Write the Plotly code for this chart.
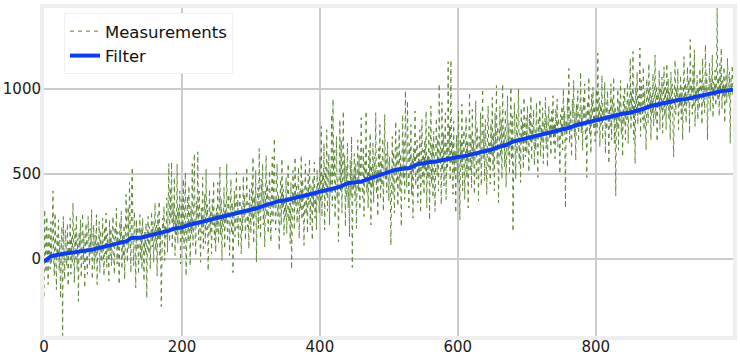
import plotly.graph_objects as go

measurements = [
-220,290,60,-80,250,120,-150,180,30,-60,220,-20,150,400,10,-100,270,80,-180,140,20,230,-70,110,-230,60,190,-450,250,40,-120,170,90,-40,210,-160,100,30,240,-90,130,-20,330,50,-140,180,0,260,-60,120,
-250,160,40,230,-110,90,270,-30,150,-170,60,210,0,-90,250,110,-40,180,30,290,-120,70,200,-60,140,10,260,-150,100,50,220,-80,170,60,-20,240,120,-100,190,30,270,-50,150,80,-130,230,20,180,-40,110,
250,40,-90,190,120,300,-30,160,60,-150,220,90,280,-60,140,10,200,-120,80,380,150,-20,310,60,450,100,-80,400,540,120,-40,280,160,-170,230,50,190,-90,120,260,0,180,-60,240,90,-130,160,30,210,-230,
120,250,30,190,-60,160,280,70,220,-20,140,330,50,200,-100,260,120,340,10,180,-280,90,240,150,310,-10,200,130,360,40,280,560,100,420,230,570,60,330,190,480,20,260,140,560,90,300,170,400,-30,220,
350,120,470,60,280,510,-100,190,370,100,430,240,-40,310,150,560,80,260,620,180,20,340,210,630,110,400,260,-20,300,150,480,60,240,380,90,530,170,320,-70,250,410,140,290,30,350,200,460,110,270,40,
300,160,450,90,230,540,140,360,-10,270,190,420,60,320,210,560,100,280,380,20,250,470,150,330,-80,220,400,130,290,510,180,350,70,260,440,200,30,310,160,490,240,380,110,270,540,190,330,60,410,280,
150,450,230,600,90,370,260,520,-20,310,420,180,650,280,120,470,340,560,200,400,70,330,610,250,440,150,360,520,290,100,390,600,220,480,710,310,170,430,560,250,380,50,340,470,200,590,300,410,140,360,
250,480,150,400,560,220,330,90,450,-60,280,520,370,170,600,310,440,210,350,540,120,400,290,610,230,470,340,80,380,560,260,420,150,500,320,590,200,430,360,110,480,300,570,240,410,170,520,350,450,270,
600,330,780,250,500,410,680,170,540,370,760,280,460,620,200,530,380,850,310,940,490,640,240,560,720,350,470,100,590,820,400,700,270,520,870,430,610,190,550,360,680,300,450,130,580,370,720,-50,500,410,
620,340,560,180,480,700,400,610,290,530,830,450,360,660,250,570,470,870,390,510,300,640,440,740,200,550,420,680,330,600,490,860,380,530,250,650,460,790,350,580,430,710,280,550,850,470,620,390,690,520,
340,600,450,80,560,720,380,630,270,520,810,440,660,310,580,760,400,620,190,540,850,470,700,350,990,560,420,930,610,300,680,500,790,380,600,240,650,520,870,430,590,700,330,620,480,760,270,560,820,450,
640,380,700,520,870,300,610,470,780,230,590,900,440,680,360,750,550,280,640,830,490,710,400,1030,570,660,320,920,520,740,430,620,860,350,680,540,1160,600,780,460,1170,560,690,380,810,500,640,270,730,580,
450,870,620,230,700,540,910,400,660,760,350,590,840,480,690,300,620,980,510,740,420,880,560,700,380,650,930,470,780,600,340,720,550,860,430,670,1000,590,760,460,820,620,380,730,900,540,680,440,800,610,
950,520,740,400,860,650,1020,560,780,330,700,900,600,820,470,1030,660,760,540,880,420,720,960,610,800,500,690,1010,580,840,160,650,920,730,470,860,620,780,1000,560,740,450,890,680,810,530,950,700,600,830,
620,900,740,510,850,680,960,580,790,700,880,550,760,640,920,700,480,830,720,940,600,780,680,890,560,810,730,950,650,840,540,770,900,700,820,610,870,750,960,680,800,590,880,730,940,660,830,760,500,850,
720,900,640,1000,780,870,300,820,700,950,760,1120,680,880,790,600,940,830,1050,720,860,580,910,800,990,690,850,770,1100,740,890,640,960,820,1030,700,870,480,930,790,1070,730,880,620,970,840,1010,760,900,690,
860,1000,740,1210,820,950,660,910,790,1080,700,880,830,1040,620,920,760,990,850,560,890,780,1030,700,950,820,1070,680,900,370,860,760,1000,640,930,810,1050,730,870,600,960,790,1010,700,900,820,1040,680,940,850,
1180,760,980,850,1220,700,930,560,1010,880,1100,790,960,840,1240,720,1050,900,820,1130,760,990,870,640,1060,930,800,1150,880,1010,700,960,850,1090,780,940,1200,820,1020,690,980,890,1110,760,1000,870,1070,740,950,1130,
840,1010,760,1150,900,1060,820,980,700,1100,880,1030,780,600,960,1170,850,1000,920,1120,760,980,890,1080,820,1010,700,950,1190,870,1040,800,990,1130,910,1060,740,1290,960,1020,850,1140,900,1230,780,1000,930,1080,820,1010,
880,1120,960,1050,790,1180,920,1030,860,1260,980,1090,700,1010,940,1150,870,1060,990,1200,830,1040,960,1110,900,1020,1480,930,1070,840,1150,990,1240,880,1050,960,1130,800,1000,1090,920,1180,1020,950,1100,680,1060,990,1140,940,
]
meas_x = list(range(len(measurements)))

filter_x = [0,10,20,30,40,50,60,70,80,90,100,110,120,125,130,140,150,160,170,180,190,200,210,220,230,240,250,260,270,280,290,
            300,310,320,330,340,350,360,370,380,390,400,410,420,430,440,450,460,470,480,490,500,510,520,530,540,550,560,570,580,590,
            600,610,620,630,640,650,660,670,680,690,700,710,720,730,740,750,760,770,780,790,800,810,820,830,840,850,860,870,880,890,
            900,910,920,930,940,950,960,970,980,990,999]
filter_y = [-15,15,25,30,35,40,45,55,65,75,85,95,105,120,125,125,135,140,150,165,180,185,200,210,220,230,240,250,260,265,275,
            285,300,315,330,340,345,355,360,370,380,390,400,410,425,445,450,455,470,485,495,510,525,530,535,555,565,570,575,585,595,
            600,605,615,620,630,645,660,670,690,700,710,715,725,740,750,760,770,785,795,805,815,825,840,850,855,860,870,885,900,910,
            920,930,935,940,950,960,970,975,985,990,995]

x_ticks = [0, 200, 400, 600, 800]
y_ticks = [0, 500, 1000]

fig = go.Figure()
fig.add_trace(go.Scatter(x=meas_x, y=measurements, mode="lines", name="Measurements",
                         line=dict(color="rgb(92,135,52)", width=1, dash="4px,4px")))
fig.add_trace(go.Scatter(x=filter_x, y=filter_y, mode="lines", name="Filter",
                         line=dict(color="#0a3cff", width=4)))

fig.update_layout(
    width=740, height=361,
    margin=dict(l=44, r=7, t=8, b=25, autoexpand=False),
    paper_bgcolor="white", plot_bgcolor="white",
    font=dict(family="DejaVu Sans", size=15, color="#1a1a1a"),
    showlegend=True,
    legend=dict(x=0.029, y=0.985, xanchor="left", yanchor="top",
                bgcolor="white", bordercolor="#f0f0f0", borderwidth=1,
                font=dict(size=16.5, color="#111111"), itemwidth=30),
    xaxis=dict(range=[0, 999], tickvals=x_ticks, showgrid=True, gridcolor="#cbcbcb", gridwidth=2,
               zeroline=False, showline=True, mirror=True, linecolor="#efefef", linewidth=4,
               ticks="", tickfont=dict(size=15), automargin=False, ticklabelstandoff=-6),
    yaxis=dict(range=[-453, 1476], tickvals=y_ticks, showgrid=True, gridcolor="#cbcbcb", gridwidth=2,
               zeroline=False, showline=True, mirror=True, linecolor="#efefef", linewidth=4,
               ticks="", tickfont=dict(size=15), automargin=False, ticklabelstandoff=-4),
)

fig.write_html("out.html", config={"displayModeBar": False},
               post_script="document.body.style.margin='0';document.body.style.overflow='hidden';")
